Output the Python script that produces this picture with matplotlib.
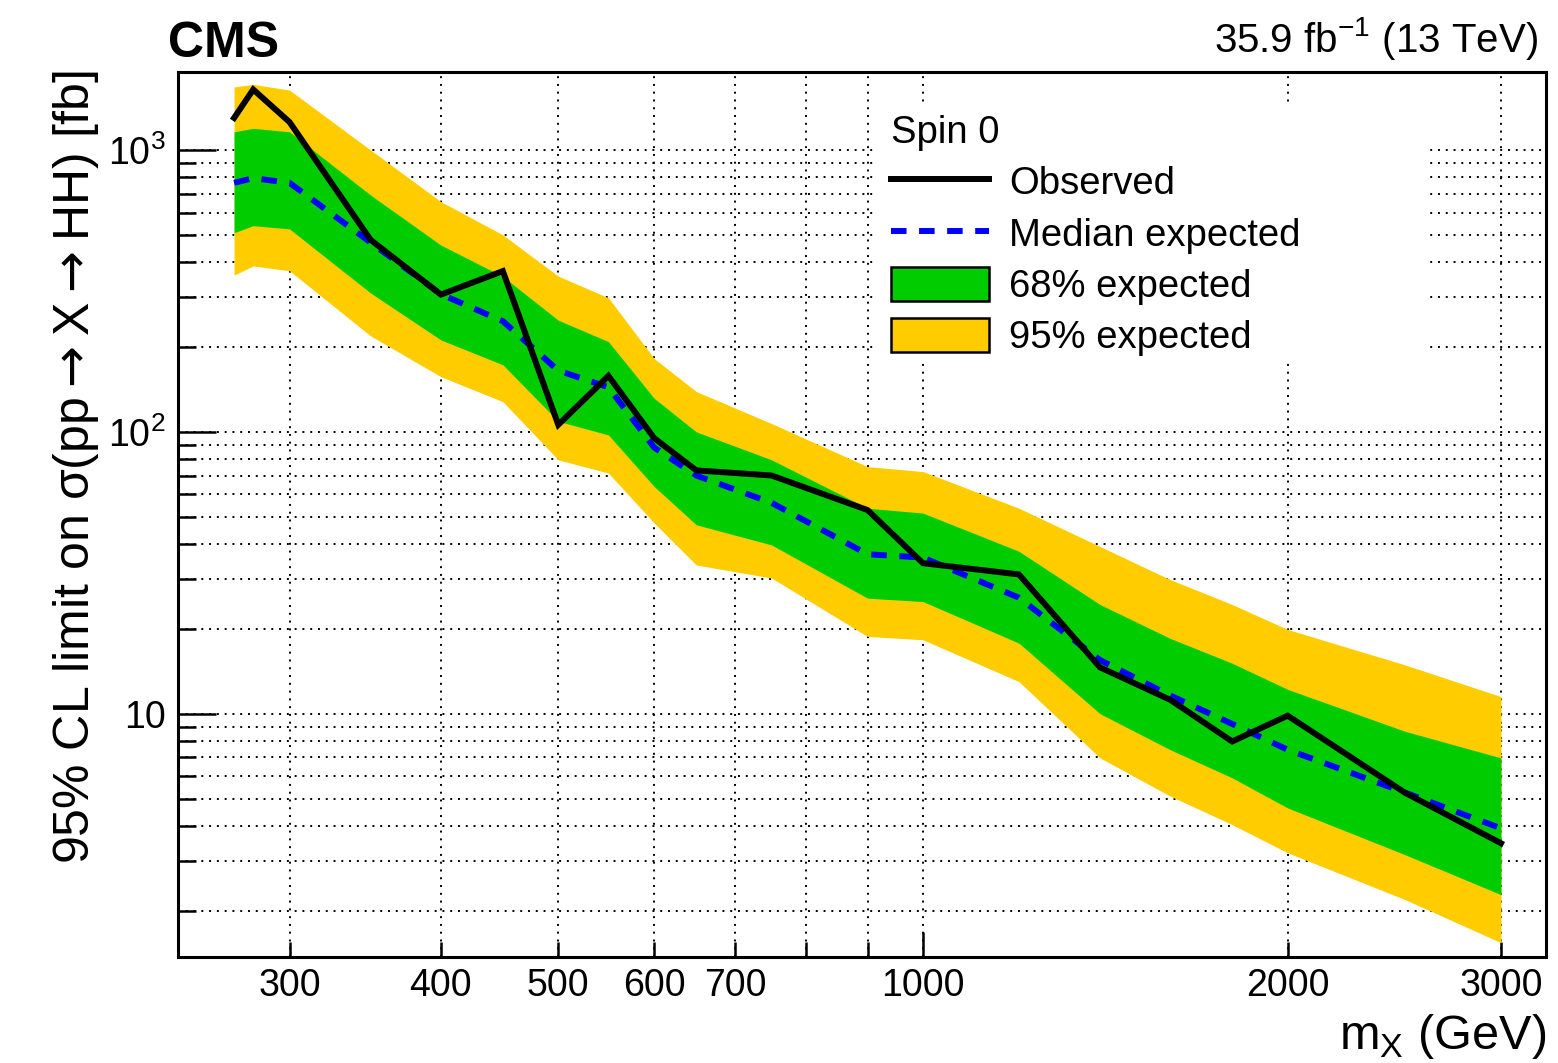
import matplotlib
matplotlib.use("Agg")
import matplotlib.pyplot as plt
from matplotlib.ticker import FixedLocator, FixedFormatter, LogLocator, NullFormatter
from matplotlib.lines import Line2D
from matplotlib.patches import Patch, Rectangle

plt.rcParams['font.family'] = ['Liberation Sans', 'DejaVu Sans']
plt.rcParams['mathtext.fontset'] = 'dejavusans'

# ---------------- data ----------------
masses = [270, 280, 300, 350, 400, 450, 500, 550, 600, 650, 750, 900, 1000,
          1200, 1400, 1600, 1800, 2000, 2500, 3000]
observed = [1300, 1640, 1257, 480, 307, 372, 106, 158, 95, 73, 70, 52.8, 34.2,
            31.2, 14.6, 11.2, 7.97, 9.84, 5.24, 3.47]
expected = [765, 795, 765, 470, 308, 247, 165, 144, 88, 70, 56, 36.8, 35.8,
            25.8, 15.5, 11.6, 9.2, 7.45, 5.25, 3.92]
band68_lo = [509, 539, 525, 311, 212, 173, 109, 97.5, 64, 46.8, 39.7, 25.7, 25.0,
             17.8, 10.0, 7.45, 5.92, 4.63, 3.16, 2.28]
band68_hi = [1161, 1194, 1161, 692, 460, 356, 249, 209, 131.5, 100, 79.6, 53.6, 51.5,
             37.7, 24.4, 18.5, 15.1, 12.2, 8.66, 6.97]
band95_lo = [360, 388, 373, 219, 157, 128, 79.6, 71.4, 47.5, 33.7, 30.3, 18.8, 18.3,
             13.0, 6.97, 5.10, 4.04, 3.21, 2.19, 1.54]
band95_hi = [1675, 1710, 1632, 1000, 656, 500, 357, 299, 182, 139, 107, 75.3, 72.3,
             53.6, 39.2, 29.9, 24.4, 19.9, 14.9, 11.5]

x_major = [1000]
x_major_labels = ["1000"]
x_minor = [300, 400, 500, 600, 700, 800, 900, 2000, 3000]
x_minor_labels = ["300", "400", "500", "600", "700", "", "", "2000", "3000"]
y_major = [10, 100, 1000]
y_major_labels = ["10", r"$\mathregular{10^{2}}$", r"$\mathregular{10^{3}}$"]

legend_title = "Spin 0"
labels = ["Observed", "Median expected", "68% expected", "95% expected"]

# ---------------- style ----------------
W, H = 1558, 1063
fig = plt.figure(figsize=(W / 100, H / 100), dpi=100)
L, R, T, B = 178, 1546, 72, 957
ax = fig.add_axes([L / W, 1 - B / H, (R - L) / W, (B - T) / H])

yellow = '#FFCC00'
green = '#00CC00'

ax.set_xscale('log')
ax.set_yscale('log')
ax.set_xlim(242.7, 3268)
ax.set_ylim(1.37, 1892)

ax.fill_between(masses, band95_lo, band95_hi, color=yellow, lw=0, zorder=1)
ax.fill_between(masses, band68_lo, band68_hi, color=green, lw=0, zorder=1.1)
ax.plot(masses, expected, color='blue', lw=4.3, dashes=(2.6, 2.1),
        dash_capstyle='butt', zorder=2)
ax.plot(masses, observed, color='black', lw=4.3, solid_joinstyle='miter',
        zorder=3)

# ticks
ax.xaxis.set_major_locator(FixedLocator(x_major))
ax.xaxis.set_major_formatter(FixedFormatter(x_major_labels))
ax.xaxis.set_minor_locator(FixedLocator(x_minor))
ax.xaxis.set_minor_formatter(FixedFormatter(x_minor_labels))
ax.yaxis.set_major_locator(FixedLocator(y_major))
ax.yaxis.set_major_formatter(FixedFormatter(y_major_labels))
ax.yaxis.set_minor_locator(LogLocator(base=10, subs=range(2, 10)))
ax.yaxis.set_minor_formatter(NullFormatter())

ax.tick_params(axis='both', which='both', direction='in', top=False, right=False,
               width=1.8, labelsize=27, color='black')
ax.tick_params(axis='x', which='major', length=18, pad=8)
ax.tick_params(axis='x', which='minor', length=11, pad=8)
ax.tick_params(axis='y', which='major', length=27, pad=9)
ax.tick_params(axis='y', which='minor', length=13, pad=9)

for s in ax.spines.values():
    s.set_linewidth(2.2)
    s.set_zorder(5)

ax.set_axisbelow(True)
ax.grid(True, which='both', axis='both', color='black', lw=1.4,
        linestyle=(0, (1, 3)))

# legend background (white, no border)
ax.add_patch(Rectangle((0.5084, 0.6723), 0.9144 - 0.5084, 0.9661 - 0.6723,
                       transform=ax.transAxes, facecolor='white',
                       edgecolor='none', zorder=0.8))

handles = [
    Line2D([], [], color='black', lw=4.3),
    Line2D([], [], color='blue', lw=4.3, dashes=(2.6, 2.1), dash_capstyle='butt'),
    Patch(facecolor=green, edgecolor='black', lw=1.8),
    Patch(facecolor=yellow, edgecolor='black', lw=1.8),
]
leg = ax.legend(handles, labels, title=legend_title, frameon=False,
                loc='upper left', bbox_to_anchor=(891 / W, 1 - 115 / H),
                bbox_transform=fig.transFigure, fontsize=27.5,
                title_fontsize=27.5, alignment='left', borderpad=0,
                borderaxespad=0, handlelength=2.57, handleheight=1.0,
                handletextpad=0.52, labelspacing=0.345)
leg.set_zorder(6)

# texts
fig.text(168 / W, 1 - 57 / H, "CMS", fontsize=36, fontweight='bold',
         ha='left', va='baseline')
fig.text(1538 / W, 1 - 52 / H, r"35.9 fb$^{\mathregular{-1}}$ (13 TeV)",
         fontsize=29, ha='right', va='baseline')
fig.text(1546 / W, 1 - 1049 / H, r"m$_{\mathregular{X}}$ (GeV)", fontsize=35,
         ha='right', va='baseline')
fig.text(76 / W, 1 - 70 / H,
         r"95% CL limit on σ(pp$\rightarrow$X$\rightarrow$HH) [fb]",
         fontsize=36, rotation=90, ha='center', va='top')

fig.savefig("out.png", dpi=100)
